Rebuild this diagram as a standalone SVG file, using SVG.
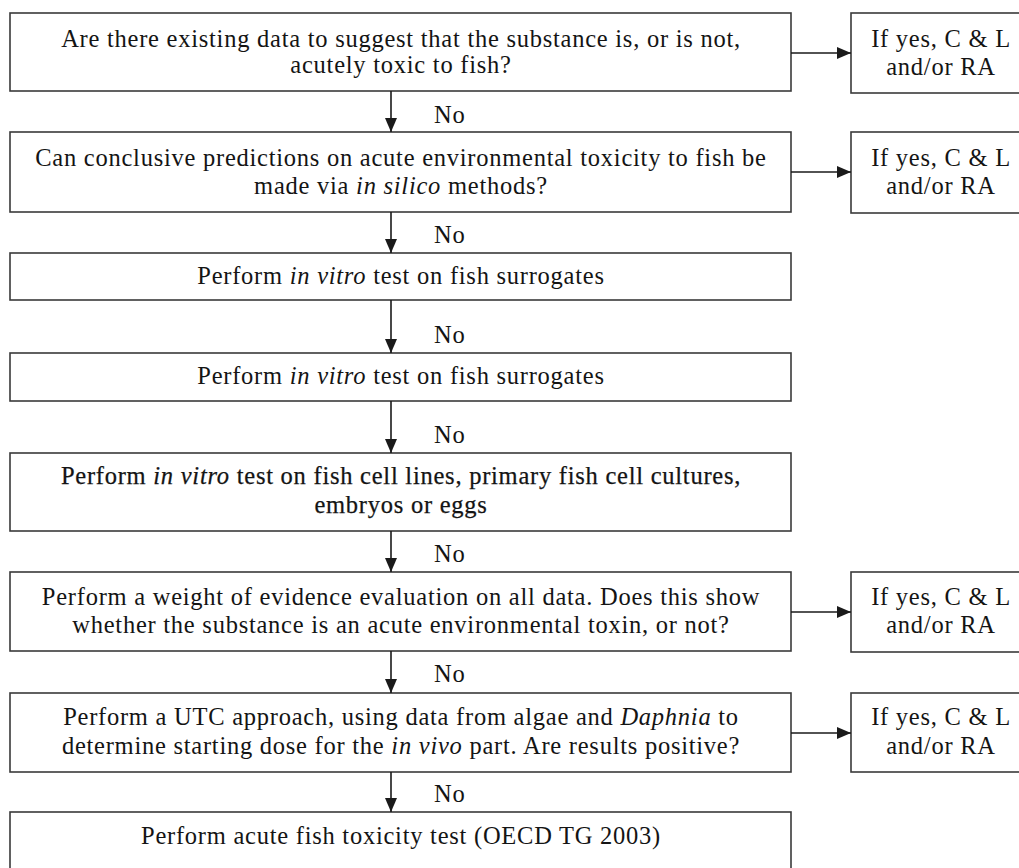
<svg xmlns="http://www.w3.org/2000/svg" width="1019" height="868" viewBox="0 0 1019 868">
  <style>
    .box { fill: #ffffff; stroke: #3a3a3a; stroke-width: 1.6; }
    .t { font-family: "Liberation Serif", "Times New Roman", serif; font-size: 24.5px; letter-spacing: 0.75px; fill: #141414; text-anchor: middle; }
    .lbl { font-family: "Liberation Serif", "Times New Roman", serif; font-size: 24.5px; letter-spacing: 0.75px; fill: #141414; }
    .i { font-style: italic; }
    .heavy { stroke: #141414; stroke-width: 0.25; }
    .conn { stroke: #1a1a1a; stroke-width: 1.6; fill: none; }
  </style>
  <defs>
    <marker id="arrow" viewBox="0 0 14 12" refX="14" refY="6" markerWidth="14" markerHeight="12" markerUnits="userSpaceOnUse" orient="auto">
      <path d="M0,0 L14,6 L0,12 Z" fill="#1a1a1a"/>
    </marker>
  </defs>
  <rect width="1019" height="868" fill="#ffffff"/>

  <!-- main column -->
  <g id="q-existing-data">
    <rect class="box" x="10" y="13" width="781" height="78"/>
    <text class="t" x="401" y="47">Are there existing data to suggest that the substance is, or is not,</text>
    <text class="t" x="401" y="73">acutely toxic to fish?</text>
  </g>
  <g id="q-in-silico">
    <rect class="box" x="10" y="132" width="781" height="80"/>
    <text class="t" x="401" y="166">Can conclusive predictions on acute environmental toxicity to fish be</text>
    <text class="t" x="401" y="194">made via <tspan class="i">in silico</tspan> methods?</text>
  </g>
  <g id="in-vitro-surrogates-1">
    <rect class="box" x="10" y="253" width="781" height="47"/>
    <text class="t" x="401" y="284">Perform <tspan class="i">in vitro</tspan> test on fish surrogates</text>
  </g>
  <g id="in-vitro-surrogates-2">
    <rect class="box" x="10" y="353" width="781" height="48"/>
    <text class="t" x="401" y="384">Perform <tspan class="i">in vitro</tspan> test on fish surrogates</text>
  </g>
  <g id="in-vitro-cells">
    <rect class="box" x="10" y="453" width="781" height="78"/>
    <text class="t heavy" x="401" y="484">Perform <tspan class="i">in vitro</tspan> test on fish cell lines, primary fish cell cultures,</text>
    <text class="t heavy" x="401" y="513">embryos or eggs</text>
  </g>
  <g id="weight-of-evidence">
    <rect class="box" x="10" y="572" width="781" height="79"/>
    <text class="t" x="401" y="605">Perform a weight of evidence evaluation on all data. Does this show</text>
    <text class="t" x="401" y="633">whether the substance is an acute environmental toxin, or not?</text>
  </g>
  <g id="utc-approach">
    <rect class="box" x="10" y="693" width="781" height="79"/>
    <text class="t" x="401" y="725">Perform a UTC approach, using data from algae and <tspan class="i">Daphnia</tspan> to</text>
    <text class="t" x="401" y="754">determine starting dose for the <tspan class="i">in vivo</tspan> part. Are results positive?</text>
  </g>
  <g id="acute-fish-test">
    <rect class="box" x="10" y="812" width="781" height="80"/>
    <text class="t" x="401" y="844">Perform acute fish toxicity test (OECD TG 2003)</text>
  </g>

  <!-- outcome boxes -->
  <g id="yes-1">
    <rect class="box" x="851" y="13" width="178" height="80"/>
    <text class="t" x="941" y="47">If yes, C &amp; L</text>
    <text class="t" x="941" y="75">and/or RA</text>
  </g>
  <g id="yes-2">
    <rect class="box" x="851" y="132" width="178" height="81"/>
    <text class="t" x="941" y="166">If yes, C &amp; L</text>
    <text class="t" x="941" y="194">and/or RA</text>
  </g>
  <g id="yes-3">
    <rect class="box" x="851" y="572" width="178" height="80"/>
    <text class="t" x="941" y="605">If yes, C &amp; L</text>
    <text class="t" x="941" y="633">and/or RA</text>
  </g>
  <g id="yes-4">
    <rect class="box" x="851" y="693" width="178" height="79"/>
    <text class="t" x="941" y="725">If yes, C &amp; L</text>
    <text class="t" x="941" y="754">and/or RA</text>
  </g>

  <!-- connectors -->
  <g id="connectors">
    <line class="conn" x1="391" y1="91" x2="391" y2="132" marker-end="url(#arrow)"/>
    <line class="conn" x1="391" y1="212" x2="391" y2="253" marker-end="url(#arrow)"/>
    <line class="conn" x1="391" y1="300" x2="391" y2="353" marker-end="url(#arrow)"/>
    <line class="conn" x1="391" y1="401" x2="391" y2="453" marker-end="url(#arrow)"/>
    <line class="conn" x1="391" y1="531" x2="391" y2="572" marker-end="url(#arrow)"/>
    <line class="conn" x1="391" y1="651" x2="391" y2="693" marker-end="url(#arrow)"/>
    <line class="conn" x1="391" y1="772" x2="391" y2="812" marker-end="url(#arrow)"/>
    <line class="conn" x1="791" y1="53" x2="851" y2="53" marker-end="url(#arrow)"/>
    <line class="conn" x1="791" y1="172" x2="851" y2="172" marker-end="url(#arrow)"/>
    <line class="conn" x1="791" y1="612" x2="851" y2="612" marker-end="url(#arrow)"/>
    <line class="conn" x1="791" y1="733" x2="851" y2="733" marker-end="url(#arrow)"/>
    <text class="lbl" x="434" y="123">No</text>
    <text class="lbl" x="434" y="243">No</text>
    <text class="lbl" x="434" y="343">No</text>
    <text class="lbl" x="434" y="443">No</text>
    <text class="lbl" x="434" y="562">No</text>
    <text class="lbl" x="434" y="682">No</text>
    <text class="lbl" x="434" y="802">No</text>
  </g>
</svg>
